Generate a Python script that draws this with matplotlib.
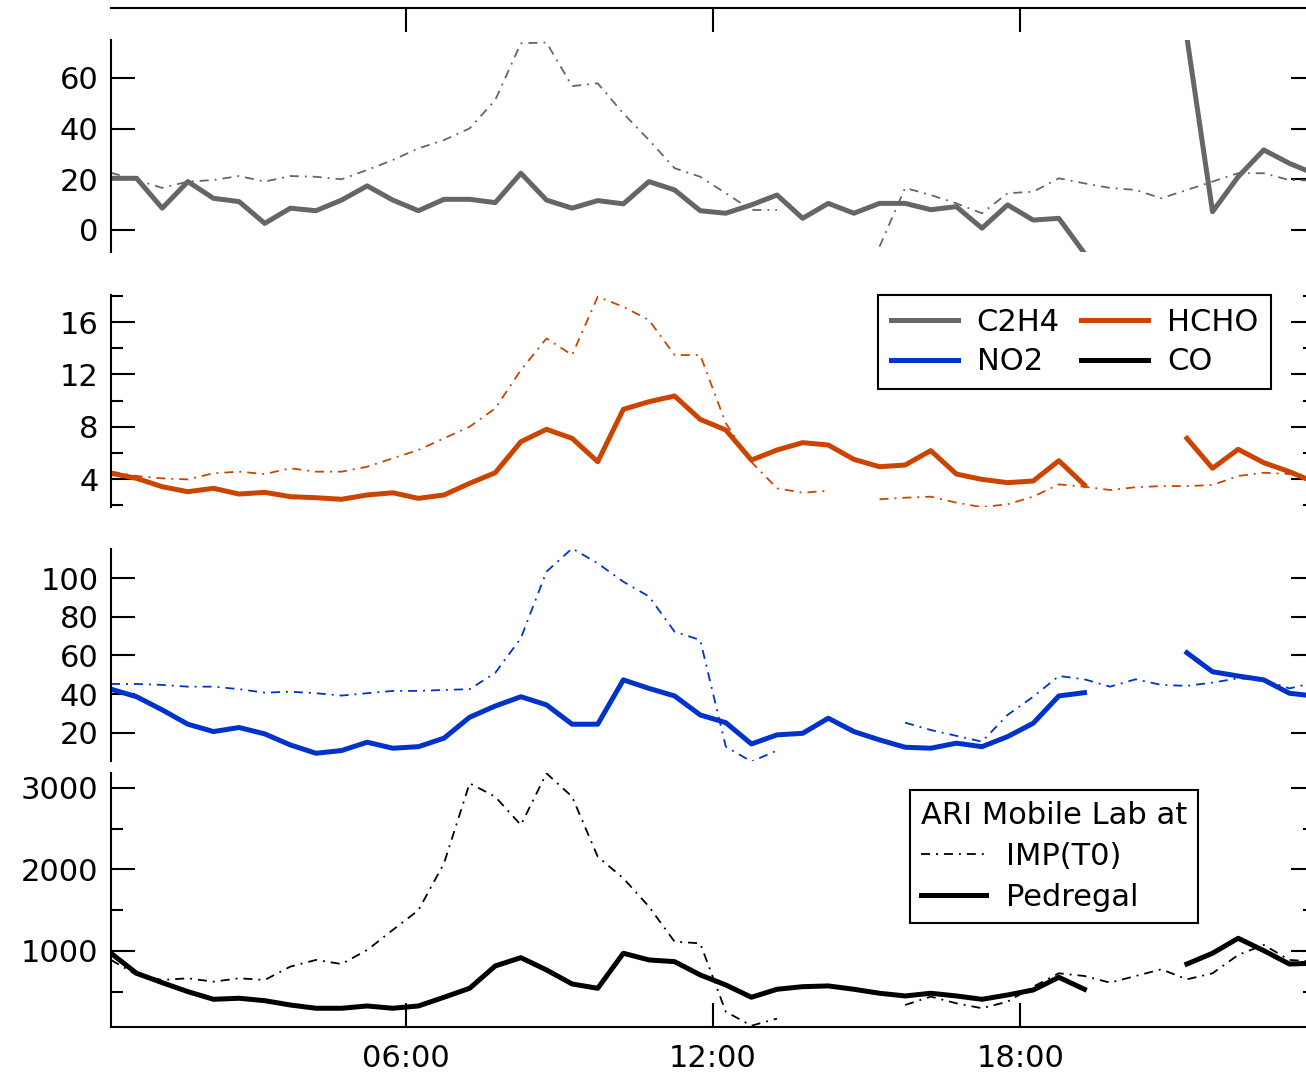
import numpy as np
import matplotlib
matplotlib.use("Agg")
import matplotlib.pyplot as plt
from matplotlib.lines import Line2D

plt.rcParams['font.family'] = ['DejaVu Sans']
plt.rcParams['lines.scale_dashes'] = False

nan = np.nan

# promedios de media hora (hora del dia)
hora = np.arange(0.25, 24.0, 0.5)
etiquetas_x = ["06:00", "12:00", "18:00"]

# C2H4
c2h4_ped = [20.4, 20.4, 8.6, 19.1, 12.5, 11.2, 2.6, 8.6, 7.6, 11.8, 17.4, 11.8,
            7.6, 12.1, 12.1, 10.8, 22.4, 11.8, 8.6, 11.6, 10.3, 19.1, 15.8, 7.6,
            6.6, 9.9, 13.8, 4.6, 10.5, 6.6, 10.5, 10.5, 8.0, 9.2, 0.7, 9.9,
            3.9, 4.6, -9.2, nan, nan, nan, 76.0, 7.2, 21.0, 31.6, 26.3, 22.1]
c2h4_imp = [22.6, 19.7, 16.6, 19.1, 19.7, 21.3, 19.1, 21.3, 21.0, 20.0, 23.7, 27.6,
            32.2, 35.5, 40.1, 51.3, 73.7, 74.0, 56.8, 57.9, 46.0, 35.5, 24.4, 21.0,
            14.5, 7.9, 7.9, nan, nan, nan, -6.6, 16.6, 13.8, 10.5, 6.6, 14.5,
            15.1, 20.4, 18.4, 16.6, 15.8, 12.5, 15.8, 19.1, 22.4, 22.4, 19.7, 19.5]

# HCHO
hcho_ped = [4.44, 4.05, 3.41, 3.03, 3.29, 2.85, 2.98, 2.65, 2.57, 2.45, 2.78, 2.95,
            2.52, 2.78, 3.67, 4.48, 6.85, 7.8, 7.11, 5.32, 9.33, 9.91, 10.35, 8.56,
            7.75, 5.45, 6.22, 6.78, 6.6, 5.5, 4.94, 5.07, 6.17, 4.38, 3.97, 3.72,
            3.85, 5.4, 3.54, nan, nan, nan, 7.11, 4.82, 6.27, 5.25, 4.56, 3.74]
hcho_imp = [4.56, 4.23, 4.05, 3.97, 4.44, 4.56, 4.38, 4.82, 4.56, 4.56, 4.94, 5.58,
            6.22, 7.11, 8.0, 9.4, 12.33, 14.75, 13.48, 17.94, 17.17, 16.15, 13.48, 13.48,
            8.26, 5.3, 3.29, 2.95, 3.1, nan, 2.45, 2.57, 2.65, 2.19, 1.85, 2.07,
            2.65, 3.59, 3.41, 3.16, 3.37, 3.46, 3.46, 3.54, 4.23, 4.48, 4.38, 4.3]

# NO2
no2_ped = [42.6, 38.7, 31.9, 24.5, 20.7, 22.8, 19.5, 13.8, 9.5, 10.9, 15.2, 12.1,
           12.9, 17.3, 28.1, 33.9, 38.7, 34.5, 24.5, 24.5, 47.4, 43.0, 39.1, 29.3,
           25.3, 14.3, 19.0, 19.8, 27.6, 20.7, 16.4, 12.6, 12.1, 14.7, 12.9, 18.1,
           25.0, 39.1, 40.8, nan, nan, nan, 61.4, 51.6, 49.4, 47.4, 40.5, 39.0]
no2_imp = [45.3, 45.3, 44.8, 43.9, 43.9, 42.6, 40.8, 41.3, 40.5, 39.3, 40.5, 41.7,
           41.7, 42.2, 42.6, 51.0, 69.0, 103.3, 115.3, 107.6, 98.1, 90.5, 72.3, 68.0,
           12.9, 5.2, 10.9, nan, nan, nan, nan, 25.3, 21.5, 18.5, 15.5, 29.3,
           38.7, 49.4, 47.7, 43.9, 47.7, 44.8, 44.3, 46.0, 48.2, 47.4, 43.0, 46.0]

# CO
co_ped = [972, 726, 611, 501, 407, 420, 390, 337, 297, 297, 325, 297,
          325, 432, 542, 816, 918, 767, 595, 542, 972, 890, 869, 706,
          583, 432, 530, 562, 571, 530, 481, 448, 481, 448, 407, 460,
          521, 677, 530, nan, nan, nan, 840, 972, 1156, 1004, 840, 850]
co_imp = [890, 706, 644, 665, 623, 665, 644, 808, 890, 840, 1012, 1258,
          1500, 2076, 3058, 2893, 2546, 3180, 2893, 2157, 1892, 1544, 1114, 1094,
          255, 83, 170, nan, nan, nan, nan, 337, 440, 358, 297, 378,
          562, 726, 693, 611, 693, 775, 652, 726, 951, 1074, 890, 870]

gris = '#666666'
naranja = '#CC4400'
azul = '#0033CC'
negro = 'black'

W, H = 1306, 1079
fig = plt.figure(figsize=(W / 100, H / 100), dpi=100)
X0 = 111
XW = 1204   # el eje derecho queda fuera de la imagen
XLIM = (0.25, 23.75)
guion_punto = (6.5, 4.3, 1.4, 4.3)


def ejes(arriba, abajo):
    return fig.add_axes([X0 / W, 1 - abajo / H, XW / W, (abajo - arriba) / H])


# marco general con los ticks de tiempo
marco = ejes(8, 1027)
marco.set_xlim(*XLIM)
marco.set_ylim(0, 1)
marco.patch.set_alpha(0)
marco.spines['left'].set_visible(False)
marco.spines['right'].set_visible(False)
for s in ('top', 'bottom'):
    marco.spines[s].set_linewidth(1.5)
marco.set_yticks([])
marco.set_xticks([6, 12, 18])
marco.set_xticklabels(etiquetas_x)
marco.tick_params(axis='x', direction='in', top=True, bottom=True, length=17,
                  width=1.5, labelsize=22, pad=12)

paneles = [
    (40, 252, (-8.7, 75.0), c2h4_ped, c2h4_imp, gris, [0, 20, 40, 60], []),
    (295, 507, (1.86, 18.07), hcho_ped, hcho_imp, naranja, [4, 8, 12, 16], [2, 6, 10, 14, 18]),
    (549, 761, (5.5, 115.0), no2_ped, no2_imp, azul, [20, 40, 60, 80, 100], []),
    (773, 1027, (67, 3184), co_ped, co_imp, negro, [1000, 2000, 3000], [500, 1500, 2500]),
]

for arriba, abajo, lim, ped, imp, color, mayores, menores in paneles:
    ax = ejes(arriba, abajo)
    ax.patch.set_alpha(0)
    for s in ('top', 'bottom', 'right'):
        ax.spines[s].set_visible(False)
    ax.spines['left'].set_linewidth(1.5)
    ax.plot(hora, imp, color=color, lw=1.3, dashes=guion_punto)
    ax.plot(hora, ped, color=color, lw=3.6)
    ax.set_xlim(*XLIM)
    ax.set_ylim(*lim)
    ax.set_xticks([])
    ax.set_yticks(mayores)
    ax.set_yticks(menores, minor=True)
    ax.tick_params(axis='y', which='both', direction='in', left=True, right=True,
                   width=1.5, labelsize=22, pad=9)
    ax.tick_params(axis='y', which='major', length=17)
    ax.tick_params(axis='y', which='minor', length=8.5)

# leyenda de especies
h_esp = [Line2D([], [], color=gris, lw=3.6), Line2D([], [], color=azul, lw=3.6),
         Line2D([], [], color=naranja, lw=3.6), Line2D([], [], color=negro, lw=3.6)]
leg1 = fig.legend(h_esp, ['C2H4', 'NO2', 'HCHO', 'CO'], ncols=2, loc='upper right',
                  bbox_to_anchor=(1271 / W, 1 - 295 / H), fontsize=22, frameon=True,
                  fancybox=False, edgecolor='black', facecolor='white', framealpha=1,
                  handlelength=2.2, handletextpad=0.6, columnspacing=0.7,
                  labelspacing=0.34, borderpad=0.42, borderaxespad=0)
leg1.get_frame().set_linewidth(1.5)

# leyenda de sitios
h_sit = [Line2D([], [], color='black', lw=1.3, dashes=guion_punto),
         Line2D([], [], color='black', lw=3.6)]
leg2 = fig.legend(h_sit, ['IMP(T0)', 'Pedregal'], loc='upper left',
                  bbox_to_anchor=(910 / W, 1 - 790 / H), title='ARI Mobile Lab at',
                  title_fontsize=22, fontsize=22, alignment='left', frameon=True,
                  fancybox=False, edgecolor='black', facecolor='white', framealpha=1,
                  handlelength=2.15, handletextpad=0.65, labelspacing=0.4,
                  borderpad=0.35, borderaxespad=0)
leg2.get_frame().set_linewidth(1.5)

fig.savefig('out.png', dpi=100)
